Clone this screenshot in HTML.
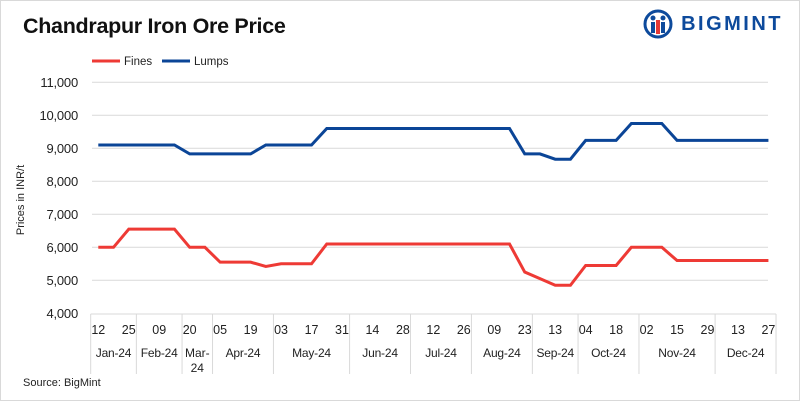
<!DOCTYPE html>
<html><head><meta charset="utf-8"><style>
body{margin:0;background:#fff;}
#wrap{position:relative;width:798px;height:399px;border:1px solid #d9d9d9;font-family:"Liberation Sans",sans-serif;overflow:hidden}
.title{position:absolute;left:22px;top:13px;font-size:21.5px;font-weight:bold;color:#111;letter-spacing:-0.3px}
.logo{position:absolute;right:16px;top:8px;display:flex;align-items:center;color:#0d4a9c;font-weight:bold;font-size:20px;letter-spacing:2.5px}
.src{position:absolute;left:22px;top:376px;font-size:11px;color:#222}
</style></head><body>
<div id="wrap">
<div class="title">Chandrapur Iron Ore Price</div>
<div class="logo">
<svg width="30" height="30" viewBox="0 0 30 30"><circle cx="15" cy="15" r="13" fill="none" stroke="#0d4a9c" stroke-width="3"/><circle cx="10" cy="9" r="2.5" fill="#0d4a9c"/><circle cx="20" cy="9" r="2.5" fill="#0d4a9c"/><rect x="8" y="13" width="4" height="11" fill="#0d4a9c"/><rect x="18" y="13" width="4" height="11" fill="#0d4a9c"/><rect x="13" y="11" width="4" height="14" fill="#e53935"/></svg>
<span style="margin-left:8px">BIGMINT</span></div>
<svg id="chart" width="800" height="401" style="position:absolute;left:-1px;top:-1px"></svg>
<div class="src">Source: BigMint</div>
</div>
<script>
const tickLabels=["12","25","09","20","05","19","03","17","31","14","28","12","26","09","23","13","04","18","02","15","29","13","27"];
const months=["Jan-24","Feb-24","Mar-24","Apr-24","May-24","Jun-24","Jul-24","Aug-24","Sep-24","Oct-24","Nov-24","Dec-24"];
const monthBounds=[-0.5,2.5,5.5,7.5,11.5,16.5,20.5,24.5,28.5,31.5,35.5,40.5,44.5];
const fines=[6000,6000,6550,6550,6550,6550,6000,6000,5550,5550,5550,5420,5500,5500,5500,6100,6100,6100,6100,6100,6100,6100,6100,6100,6100,6100,6100,6100,5250,5050,4850,4850,5450,5450,5450,6000,6000,6000,5600,5600,5600,5600,5600,5600,5600];
const lumps=[9100,9100,9100,9100,9100,9100,8830,8830,8830,8830,8830,9100,9100,9100,9100,9600,9600,9600,9600,9600,9600,9600,9600,9600,9600,9600,9600,9600,8830,8830,8670,8670,9240,9240,9240,9750,9750,9750,9240,9240,9240,9240,9240,9240,9240];
const yTicks=[4000,5000,6000,7000,8000,9000,10000,11000];
const svg=document.getElementById('chart');
const NS='http://www.w3.org/2000/svg';
const x=i=>98.3+i*15.23;
const y=v=>313.3-(v-4000)*0.033;
function mk(t,a,txt){const e=document.createElementNS(NS,t);for(const k in a)e.setAttribute(k,a[k]);if(txt!=null)e.textContent=txt;svg.appendChild(e);return e;}
yTicks.forEach(v=>{
 if(v>4000){const g=mk('line',{x1:92,x2:768,y1:y(v),y2:y(v),stroke:'#d9d9d9','stroke-width':1});
 
 }
 const t=mk('text',{x:78,y:y(v)+4.5,'text-anchor':'end','font-size':13,fill:'#222','font-family':'Liberation Sans','letter-spacing':'-0.2'},v.toLocaleString('en-US'));
 
 
});
const yt=mk('text',{transform:'translate(24,200) rotate(-90)','text-anchor':'middle','font-size':11,fill:'#222','font-family':'Liberation Sans'},'Prices in INR/t');


const ax=mk('line',{x1:x(-0.5),x2:x(44.5),y1:314,y2:314,stroke:'#d9d9d9'});


monthBounds.forEach(b=>{const l=mk('line',{x1:x(b),x2:x(b),y1:314,y2:374,stroke:'#d9d9d9'});
 
 });
months.forEach((m,k)=>{const cx=(x(monthBounds[k])+x(monthBounds[k+1]))/2;
 let t;
 if(m==="Mar-24"){t=mk('text',{x:cx,y:357,'text-anchor':'middle','font-size':12,fill:'#222','font-family':'Liberation Sans'},'Mar-');
  const t2=mk('text',{x:cx,y:372,'text-anchor':'middle','font-size':12,fill:'#222','font-family':'Liberation Sans'},'24');
  
  }
 else t=mk('text',{x:cx,y:357,'text-anchor':'middle','font-size':12,fill:'#222','font-family':'Liberation Sans','letter-spacing':'-0.2'},m);
 
 });
tickLabels.forEach((s,k)=>{const t=mk('text',{x:x(k*2),y:334,'text-anchor':'middle','font-size':12.5,fill:'#222','font-family':'Liberation Sans'},s);
 
 });
function series(d,c,n){const p=mk('polyline',{points:d.map((v,i)=>x(i)+','+y(v)).join(' '),fill:'none',stroke:c,'stroke-width':3,'stroke-linejoin':'miter'});
 
 }
series(fines,'#ee3a35','fines-line');
series(lumps,'#0b4597','lumps-line');
[[92,'#ee3a35','Fines','legend-fines'],[162,'#0b4597','Lumps','legend-lumps']].forEach(([lx,c,s,n])=>{
 const l=mk('line',{x1:lx,x2:lx+28,y1:61,y2:61,stroke:c,'stroke-width':3});
 
 
 const t=mk('text',{x:lx+32,y:65,'font-size':11.5,fill:'#222','font-family':'Liberation Sans'},s);
 
 });
</script>
</body></html>
